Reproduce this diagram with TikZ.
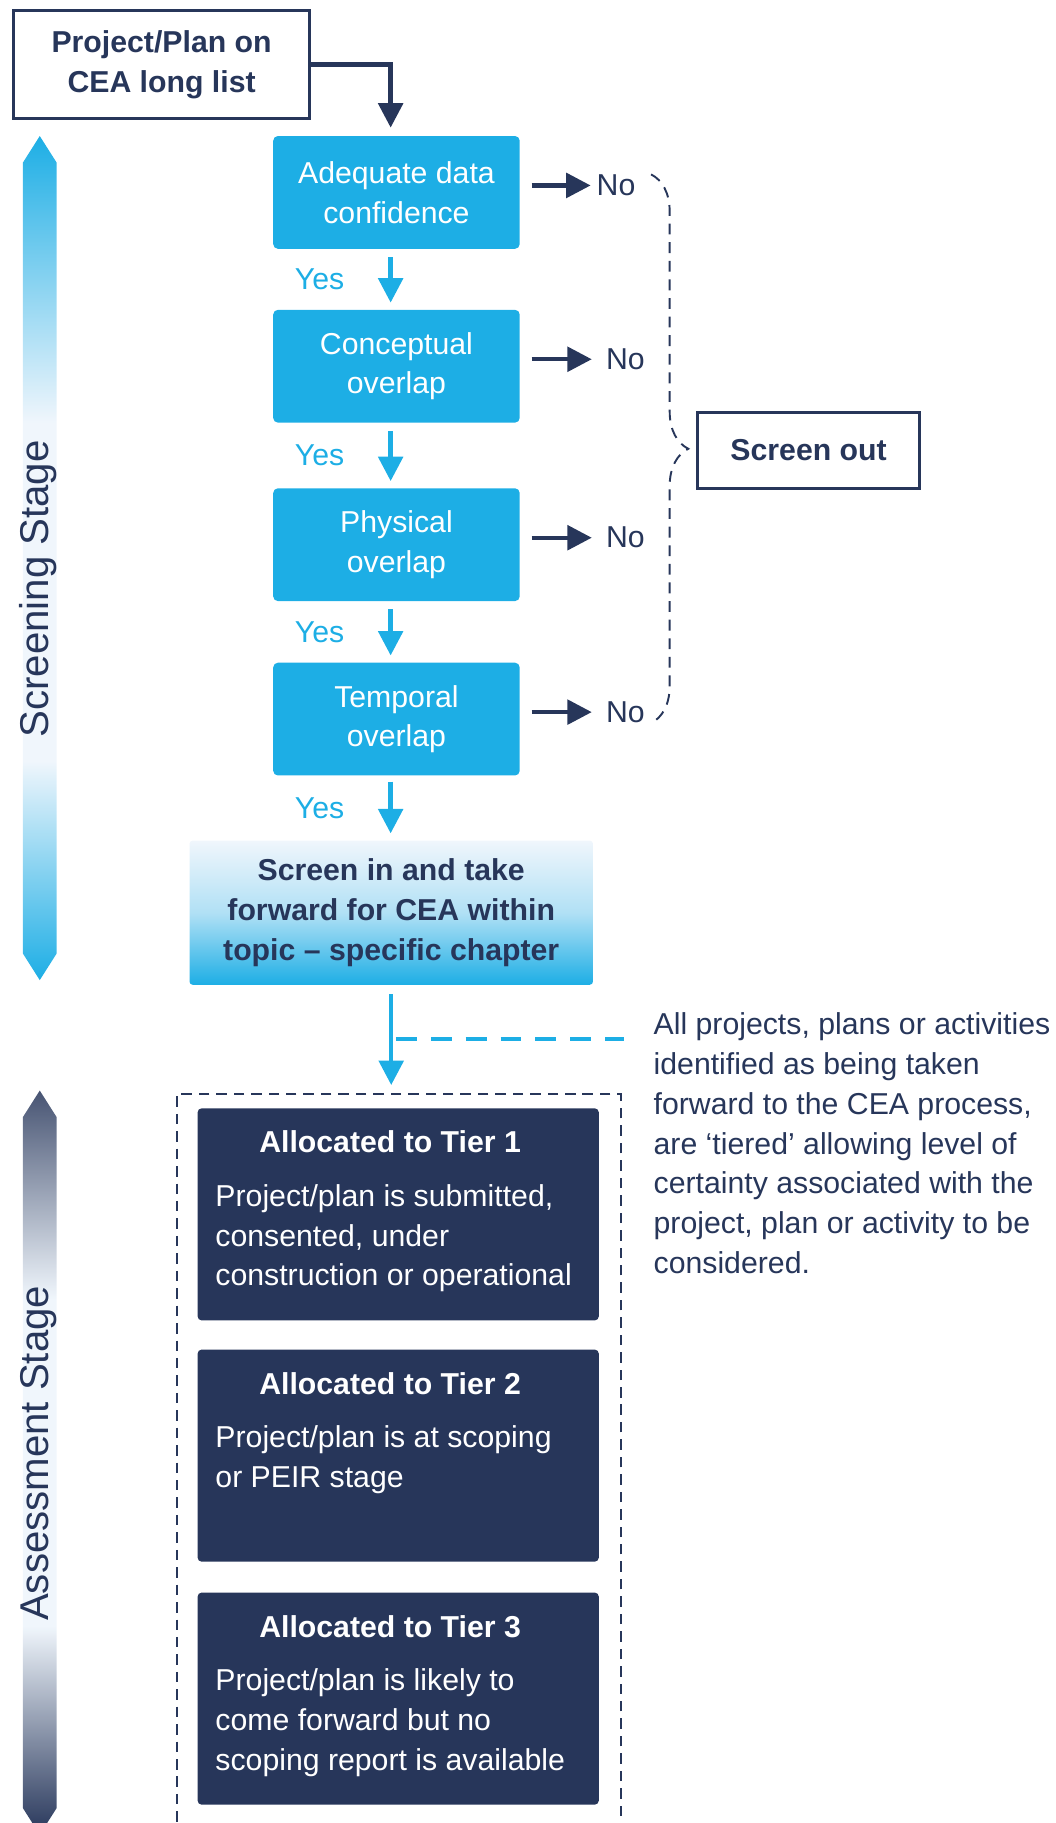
\documentclass[tikz,border=0pt]{standalone}
\usepackage{fontspec}
\setmainfont{Liberation Sans}
\usepackage{tikz}
\usetikzlibrary{arrows.meta,decorations.pathreplacing,calc}
\usepackage{xcolor}

\definecolor{ceanavy}{RGB}{39,54,90}
\definecolor{ceablue}{RGB}{29,174,229}
\definecolor{ceapale}{RGB}{240,246,252}
\colorlet{ceanavytop}{ceanavy!85!white}
\newcommand{\bodyfont}{\fontsize{22.2}{29.2}\selectfont}
\newcommand{\stagefont}{\fontsize{29.5}{35}\selectfont}

\pgfdeclareverticalshading{screenfade}{100bp}{color(0bp)=(ceablue); color(25bp)=(ceablue); color(38bp)=(ceapale); color(58bp)=(ceapale); color(75bp)=(ceablue); color(100bp)=(ceablue)}
\pgfdeclareverticalshading{assessfade}{100bp}{color(0bp)=(ceanavy); color(25bp)=(ceanavy); color(39bp)=(ceapale); color(61bp)=(ceapale); color(75bp)=(ceanavytop); color(100bp)=(ceanavytop)}

\begin{document}
\begin{tikzpicture}[>={Triangle[length=0.63cm,width=0.63cm]},
    startbox/.style={draw=ceanavy, line width=2.2pt, fill=white, text=ceanavy, font=\bodyfont\bfseries, align=center, minimum width=7.62cm, minimum height=2.79cm, inner sep=0},
    checkbox/.style={fill=ceablue, rounded corners=0.12cm, text=white, font=\bodyfont, align=center, minimum width=6.36cm, minimum height=2.91cm, inner sep=0},
    screeninbox/.style={top color=ceapale, bottom color=ceablue, middle color=ceablue!30!ceapale, rounded corners=0.08cm, text=ceanavy, font=\bodyfont\bfseries, align=center, minimum width=10.41cm, minimum height=3.72cm, inner sep=0},
    outbox/.style={draw=ceanavy, line width=2.2pt, fill=white, text=ceanavy, font=\bodyfont\bfseries, minimum width=5.73cm, minimum height=1.95cm},
    tierbox/.style={fill=ceanavy, rounded corners=0.1cm, minimum width=10.35cm, minimum height=5.47cm, inner sep=0},
    tiertitle/.style={anchor=base, inner sep=0, text=white, font=\bodyfont\bfseries},
    tiertext/.style={anchor=north west, align=left, inner sep=0, text=white, font=\bodyfont},
    nolabel/.style={anchor=west, inner sep=0, text=ceanavy, font=\bodyfont},
    yeslabel/.style={anchor=east, inner sep=0, xshift=-1.14cm, text=ceablue, font=\bodyfont},
    stagelabel/.style={rotate=90, anchor=base, inner sep=0, text=ceanavy, font=\stagefont},
    navyarrow/.style={->, draw=ceanavy, line width=3.2pt},
    bluearrow/.style={->, draw=ceablue, line width=3.2pt}]

  \useasboundingbox (0,0) rectangle (27.24,-47.04);

  % stage bars on the left
  \shade[shading=screenfade] (1.026,-3.51) -- (1.464,-4.2) -- (1.464,-24.6) -- (1.026,-25.29) -- (0.588,-24.6) -- (0.588,-4.2) -- cycle;
  \shade[shading=assessfade] (1.026,-28.14) -- (1.464,-28.83) -- (1.464,-46.65) -- (1.026,-47.34) -- (0.588,-46.65) -- (0.588,-28.83) -- cycle;
  \node[stagelabel] (scrlab) at (1.26,-15.195) {Screening Stage};
  \node[stagelabel] (asslab) at (1.26,-37.5) {Assessment Stage};

  % screening chain
  \node[startbox] (start) at (4.17,-1.665) {Project/Plan on\\CEA long list};
  \node[checkbox] (d1) at (10.23,-4.965) {Adequate data\\confidence};
  \node[checkbox] (d2) at (10.23,-9.45) {Conceptual\\overlap};
  \node[checkbox] (d3) at (10.23,-14.055) {Physical\\overlap};
  \node[checkbox] (d4) at (10.23,-18.555) {Temporal\\overlap};
  \node[screeninbox] (sin) at (10.095,-23.55) {Screen in and take\\forward for CEA within\\topic – specific chapter};

  \draw[navyarrow, shorten >=0.21cm] (start.east) -| ([xshift=-.15cm]d1.north);
  \draw[bluearrow, shorten <=0.21cm, shorten >=0.18cm] ([xshift=-.15cm]d1.south) -- node[yeslabel] (y1) {Yes} ([xshift=-.15cm]d2.north);
  \draw[bluearrow, shorten <=0.21cm, shorten >=0.18cm] ([xshift=-.15cm]d2.south) -- node[yeslabel] (y2) {Yes} ([xshift=-.15cm]d3.north);
  \draw[bluearrow, shorten <=0.21cm, shorten >=0.18cm] ([xshift=-.15cm]d3.south) -- node[yeslabel] (y3) {Yes} ([xshift=-.15cm]d4.north);
  \draw[bluearrow, shorten <=0.15cm, shorten >=0.18cm] ([xshift=-.15cm]d4.south) -- node[yeslabel] (y4) {Yes} ([xshift=-.15cm]d4.south |- sin.north);

  % screen out branch
  \node[nolabel] (n1) at (15.39,-4.785) {No};
  \node[nolabel] (n2) at (15.63,-9.27) {No};
  \node[nolabel] (n3) at (15.63,-13.875) {No};
  \node[nolabel] (n4) at (15.63,-18.375) {No};
  \draw[navyarrow, shorten <=0.3cm, shorten >=0.15cm] (d1.east |- n1.west) -- (n1.west);
  \draw[navyarrow, shorten <=0.3cm, shorten >=0.36cm] (d2.east |- n2.west) -- (n2.west);
  \draw[navyarrow, shorten <=0.3cm, shorten >=0.36cm] (d3.east |- n3.west) -- (n3.west);
  \draw[navyarrow, shorten <=0.3cm, shorten >=0.36cm] (d4.east |- n4.west) -- (n4.west);

  \coordinate (bracetop) at (16.8,-4.5);
  \coordinate (bracebot) at (16.8,-18.66);
  \draw[ceanavy, line width=1.4pt, dash pattern=on 0.28cm off 0.2cm, decorate, decoration={brace, amplitude=0.96cm}] (bracetop) -- (bracebot);
  \node[outbox] (out) at (20.865,-11.625) {Screen out};

  % assessment tiers
  \node[draw=ceanavy, line width=1.3pt, dash pattern=on 0.27cm off 0.18cm, minimum width=11.46cm, minimum height=19.77cm] (frame) at (10.29,-38.115) {};
  \node[tierbox] (t1) at (10.275,-31.335) {};
  \node[tierbox] (t2) at (10.275,-37.56) {};
  \node[tierbox] (t3) at (10.275,-43.83) {};

  \node[tiertitle] (t1head) at ([xshift=-.21cm,yshift=-1.155cm]t1.north) {Allocated to Tier 1};
  \node[tiertext] (t1text) at ([xshift=.46cm,yshift=-1.96cm]t1.north west) {Project/plan is submitted,\\consented, under\\construction or operational};
  \node[tiertitle] (t2head) at ([xshift=-.21cm,yshift=-1.155cm]t2.north) {Allocated to Tier 2};
  \node[tiertext] (t2text) at ([xshift=.46cm,yshift=-1.96cm]t2.north west) {Project/plan is at scoping\\or PEIR stage};
  \node[tiertitle] (t3head) at ([xshift=-.21cm,yshift=-1.155cm]t3.north) {Allocated to Tier 3};
  \node[tiertext] (t3text) at ([xshift=.46cm,yshift=-1.96cm]t3.north west) {Project/plan is likely to\\come forward but no\\scoping report is available};

  \node[anchor=north west, align=left, inner sep=0, text=ceanavy, font=\bodyfont] (note) at (16.86,-26.13) {All projects, plans or activities\\identified as being taken\\forward to the CEA process,\\are ‘tiered’ allowing level of\\certainty associated with the\\project, plan or activity to be\\considered.};

  \draw[bluearrow, shorten <=0.24cm, shorten >=0.21cm] (sin.south) -- (sin.south |- frame.north);
  \coordinate (split) at ($(sin.south)!.5!(sin.south |- frame.north)$);
  \draw[ceablue, line width=3.2pt, dash pattern=on 0.54cm off 0.36cm, shorten <=0.12cm, shorten >=0.75cm] (split) -- (split -| note.west);
\end{tikzpicture}
\end{document}
